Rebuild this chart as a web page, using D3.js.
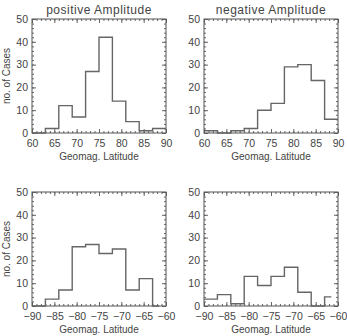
<!DOCTYPE html>
<html>
<head>
<meta charset="utf-8">
<script src="https://cdn.jsdelivr.net/npm/d3@7"></script>
<style>
  body { margin: 0; background: #fff; }
  text { font-family: "Liberation Sans", Arial, sans-serif; fill: #444; }
</style>
</head>
<body>
<div id="chart"></div>
<script>
// bin edges (3 deg bins)
const northEdges = [60, 63, 66, 69, 72, 75, 78, 81, 84, 87, 90];
const southEdges = [-90, -87, -84, -81, -78, -75, -72, -69, -66, -63, -61.5];

// counts per bin
const posNorth = [0, 2, 12, 7, 27, 42, 14, 5, 1, 2];
const negNorth = [1, 0, 1, 2, 10, 13, 29, 30, 23, 6];
const posSouth = [0, 3, 7, 26, 27, 23, 25, 7, 12, 0];
const negSouth = [3, 5, 1, 13, 9, 13, 17, 6, 0, 4];

const titles = ["positive Amplitude", "negative Amplitude"];
const northDomain = [60, 90];
const southDomain = [-90, -60];
const yDomain = [0, 50];

const W = 347, H = 336;
const pw = 134, ph = 114;

const svg = d3.select("#chart").append("svg")
    .attr("width", W)
    .attr("height", H);

const panels = [
  { x0: 32, y0: 19, edges: northEdges, vals: posNorth, dom: northDomain, title: titles[0], ylab: true },
  { x0: 204, y0: 19, edges: northEdges, vals: negNorth, dom: northDomain, title: titles[1], ylab: false },
  { x0: 32, y0: 192, edges: southEdges, vals: posSouth, dom: southDomain, title: null, ylab: true },
  { x0: 204, y0: 192, edges: southEdges, vals: negSouth, dom: southDomain, title: null, ylab: false }
];

panels.forEach(p => {
  const g = svg.append("g").attr("transform", "translate(" + p.x0 + "," + p.y0 + ")");

  const x = d3.scaleLinear().domain(p.dom).range([0, pw]);
  const y = d3.scaleLinear().domain(yDomain).range([ph, 0]);

  const xMinor = d3.range(p.dom[0], p.dom[1] + 1, 1);
  const yMinor = d3.range(0, 51, 2);

  // minor ticks on all four sides
  g.append("g").attr("transform", "translate(0," + ph + ")")
    .call(d3.axisBottom(x).tickValues(xMinor).tickSize(-2).tickFormat(""))
    .call(a => a.select(".domain").remove());
  g.append("g")
    .call(d3.axisTop(x).tickValues(xMinor).tickSize(-2).tickFormat(""))
    .call(a => a.select(".domain").remove());
  g.append("g")
    .call(d3.axisLeft(y).tickValues(yMinor).tickSize(-2).tickFormat(""))
    .call(a => a.select(".domain").remove());
  g.append("g").attr("transform", "translate(" + pw + ",0)")
    .call(d3.axisRight(y).tickValues(yMinor).tickSize(-2).tickFormat(""))
    .call(a => a.select(".domain").remove());

  // major ticks with labels
  const xAxis = g.append("g").attr("transform", "translate(0," + ph + ")")
    .call(d3.axisBottom(x).ticks(6).tickSize(-4).tickPadding(7));
  const yAxis = g.append("g")
    .call(d3.axisLeft(y).ticks(5).tickSize(-4).tickPadding(4));
  g.append("g").call(d3.axisTop(x).ticks(6).tickSize(-4).tickFormat(""))
    .call(a => a.select(".domain").remove());
  g.append("g").attr("transform", "translate(" + pw + ",0)")
    .call(d3.axisRight(y).ticks(5).tickSize(-4).tickFormat(""))
    .call(a => a.select(".domain").remove());

  [xAxis, yAxis].forEach(a => {
    a.select(".domain").remove();
    a.selectAll("text").attr("font-size", 10.5).attr("fill", "#444")
      .attr("font-family", "Liberation Sans, Arial, sans-serif");
  });
  g.selectAll(".tick line").attr("stroke", "#666");

  // frame
  g.append("rect")
    .attr("width", pw).attr("height", ph)
    .attr("fill", "none").attr("stroke", "#555").attr("stroke-width", 1);

  // histogram
  const pts = p.vals.map((v, i) => ({ e: p.edges[i], v: v }));
  pts.push({ e: p.edges[p.edges.length - 1], v: p.vals[p.vals.length - 1] });
  const line = d3.line().curve(d3.curveStepAfter)
    .x(d => x(d.e)).y(d => y(d.v));
  g.append("path").datum(pts)
    .attr("d", line)
    .attr("fill", "none")
    .attr("stroke", "#666")
    .attr("stroke-width", 1.4);

  if (p.title) {
    g.append("text")
      .attr("x", pw / 2).attr("y", -5)
      .attr("text-anchor", "middle")
      .attr("font-size", 12)
      .attr("letter-spacing", 0.5)
      .text(p.title);
  }

  g.append("text")
    .attr("x", pw / 2).attr("y", ph + 27)
    .attr("text-anchor", "middle")
    .attr("font-size", 10)
    .text("Geomag. Latitude");

  if (p.ylab) {
    g.append("text")
      .attr("transform", "translate(-22," + (ph / 2) + ") rotate(-90)")
      .attr("text-anchor", "middle")
      .attr("font-size", 10)
      .text("no. of Cases");
  }
});
</script>
</body>
</html>
